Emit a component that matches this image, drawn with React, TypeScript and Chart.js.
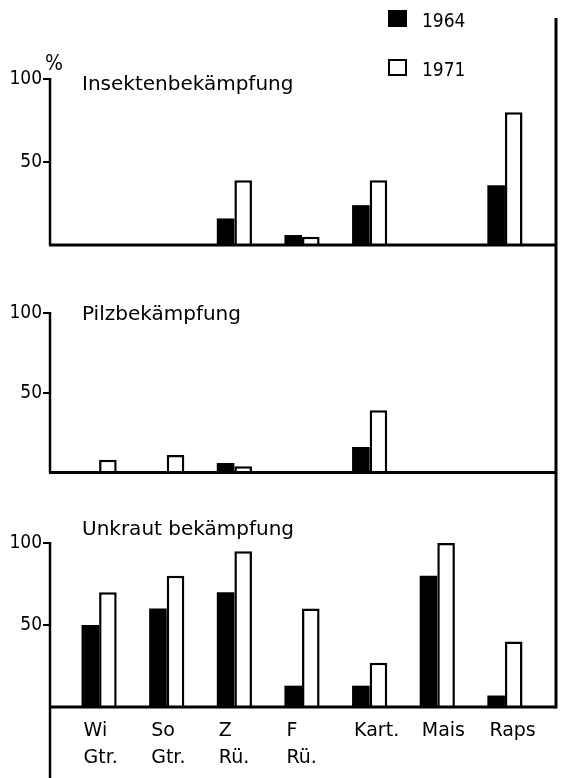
import React, { useEffect, useRef } from 'react';
import { Chart, registerables } from 'chart.js';

Chart.register(...registerables);

// ---------- data ----------
const categories: (string | string[])[] = [
  ['Wi', 'Gtr.'],
  ['So', 'Gtr.'],
  ['Z', 'Rü.'],
  ['F', 'Rü.'],
  'Kart.',
  'Mais',
  'Raps',
];
const seriesNames = ['1964', '1971'];
const panelTitles = ['Insektenbekämpfung', 'Pilzbekämpfung', 'Unkraut bekämpfung'];
const insekten1964 = [0, 0, 16, 6, 24, 0, 36];
const insekten1971 = [0, 0, 39, 5, 39, 0, 80];
const pilz1964 = [0, 0, 6, 0, 16, 0, 0];
const pilz1971 = [8, 11, 4, 0, 39, 0, 0];
const unkraut1964 = [50, 60, 70, 13, 13, 80, 7];
const unkraut1971 = [70, 80, 95, 60, 27, 100, 40];
const yTickValues = [50, 100];
const yUnit = '%';

// ---------- styles ----------
const INK = '#000000';
const PAPER = '#ffffff';
const TITLE_FAMILY = "'DejaVu Sans', 'Liberation Sans', sans-serif";
const NUM_FAMILY = "'DejaVu Sans Condensed', 'Liberation Sans Narrow', 'Liberation Sans', sans-serif";
const W = 561;

type PanelCfg = {
  title: string;
  v1964: number[];
  v1971: number[];
  top: number;
  height: number;
  padTop: number;
  padBottom: number;
  showX: boolean;
  xHeight: number;
  showLegend: boolean;
  showUnit: boolean;
  titleDy: number;
  rightTop: number;
  rightToBottom: boolean;
  leftToBottom: boolean;
};

const panels: PanelCfg[] = [
  {
    title: panelTitles[0], v1964: insekten1964, v1971: insekten1971,
    top: 0, height: 260, padTop: 79, padBottom: 15, showX: false, xHeight: 0,
    showLegend: true, showUnit: true, titleDy: 11, rightTop: 18, rightToBottom: true, leftToBottom: false,
  },
  {
    title: panelTitles[1], v1964: pilz1964, v1971: pilz1971,
    top: 260, height: 225, padTop: 53, padBottom: 8, showX: false, xHeight: 0,
    showLegend: false, showUnit: false, titleDy: 7, rightTop: 0, rightToBottom: true, leftToBottom: false,
  },
  {
    title: panelTitles[2], v1964: unkraut1964, v1971: unkraut1971,
    top: 485, height: 293, padTop: 58, padBottom: 0, showX: true, xHeight: 71,
    showLegend: false, showUnit: false, titleDy: -8, rightTop: 0, rightToBottom: false, leftToBottom: true,
  },
];

const X_MIN = -0.726;
const X_MAX = 6.755;
const LABEL_SHIFT = -0.23;

function makeDecorPlugin(cfg: PanelCfg) {
  return {
    id: 'decor',
    afterDraw(chart: any) {
      const { ctx, chartArea: ca } = chart;
      const y = chart.scales.y;
      const y0 = y.getPixelForValue(0);
      const yTop = y.getPixelForValue(100);
      const line = (x1: number, y1: number, x2: number, y2: number, w: number) => {
        ctx.beginPath();
        ctx.lineWidth = w;
        ctx.moveTo(x1, y1);
        ctx.lineTo(x2, y2);
        ctx.stroke();
      };
      ctx.save();
      ctx.strokeStyle = INK;
      ctx.fillStyle = INK;
      ctx.lineCap = 'butt';
      // left axis
      line(ca.left, yTop - 1, ca.left, cfg.leftToBottom ? chart.height : y0, 2.5);
      // baseline
      line(ca.left - 1, y0, ca.right, y0, 3);
      // right frame line
      line(ca.right, cfg.rightTop, ca.right, cfg.rightToBottom ? chart.height : y0 + 1.5, 3);

      // panel title
      ctx.font = `20px ${TITLE_FAMILY}`;
      ctx.textAlign = 'left';
      ctx.textBaseline = 'alphabetic';
      ctx.fillText(cfg.title, ca.left + 32, yTop + cfg.titleDy);

      if (cfg.showUnit) {
        ctx.font = `21px ${NUM_FAMILY}`;
        ctx.textAlign = 'center';
        ctx.fillText(yUnit, ca.left + 4, yTop - 9);
      }

      if (cfg.showLegend) {
        const ds = chart.data.datasets;
        ctx.font = `19px ${NUM_FAMILY}`;
        ctx.textAlign = 'left';
        ds.forEach((d: any, i: number) => {
          const bx = ca.right - 168;
          const by = 10 + i * 49;
          ctx.fillStyle = d.backgroundColor;
          ctx.fillRect(bx, by, 19, 17);
          ctx.lineWidth = 2;
          ctx.strokeStyle = INK;
          ctx.strokeRect(bx + 1, by + 1, 17, 15);
          ctx.fillStyle = INK;
          ctx.fillText(d.label, bx + 34, by + 17);
        });
      }
      ctx.restore();
    },
  };
}

function buildConfig(cfg: PanelCfg): any {
  const toPoints = (vals: number[]) => vals.map((v, i) => ({ x: i, y: v }));
  return {
    type: 'bar',
    data: {
      datasets: [
        {
          label: seriesNames[0],
          data: toPoints(cfg.v1964),
          backgroundColor: INK,
          borderColor: INK,
          borderWidth: 0,
        },
        {
          label: seriesNames[1],
          data: toPoints(cfg.v1971),
          backgroundColor: PAPER,
          borderColor: INK,
          borderWidth: 2.5,
          borderSkipped: 'bottom',
        },
      ],
    },
    options: {
      responsive: false,
      animation: false,
      devicePixelRatio: 1,
      categoryPercentage: 0.52,
      barPercentage: 1.0,
      layout: {
        autoPadding: false,
        padding: { top: cfg.padTop, bottom: cfg.padBottom, left: 0, right: 5 },
      },
      plugins: {
        legend: { display: false },
        title: { display: false },
        tooltip: { enabled: false },
      },
      scales: {
        x: {
          type: 'linear',
          min: X_MIN,
          max: X_MAX,
          offset: false,
          display: cfg.showX,
          bounds: 'data',
          afterBuildTicks: (s: any) => {
            s.ticks = categories.map((_, i) => ({ value: i + LABEL_SHIFT }));
          },
          afterFit: (s: any) => {
            if (cfg.showX) s.height = cfg.xHeight;
          },
          grid: { display: false, offset: false },
          border: { display: false },
          ticks: {
            autoSkip: false,
            maxRotation: 0,
            minRotation: 0,
            align: 'start',
            padding: 3,
            color: INK,
            font: { family: TITLE_FAMILY, size: 19, lineHeight: 1.42 },
            callback: (_v: any, i: number) => categories[i],
          },
        },
        y: {
          min: 0,
          max: 100,
          afterBuildTicks: (s: any) => {
            s.ticks = yTickValues.map((v) => ({ value: v }));
          },
          afterFit: (s: any) => {
            s.width = 50;
          },
          grid: { drawOnChartArea: false, drawTicks: true, tickLength: 7, color: INK, lineWidth: 2 },
          border: { display: false },
          ticks: {
            color: INK,
            padding: 1,
            font: { family: NUM_FAMILY, size: 19 },
            callback: (v: any) => String(v),
          },
        },
      },
    },
    plugins: [makeDecorPlugin(cfg)],
  };
}

function Panel({ cfg }: { cfg: PanelCfg }) {
  const ref = useRef<HTMLCanvasElement | null>(null);
  useEffect(() => {
    if (!ref.current) return;
    const chart = new Chart(ref.current, buildConfig(cfg));
    return () => chart.destroy();
  }, [cfg]);
  return (
    <canvas
      ref={ref}
      width={W}
      height={cfg.height}
      style={{ position: 'absolute', left: 0, top: cfg.top, width: W, height: cfg.height, display: 'block' }}
    />
  );
}

export default function App() {
  return (
    <div style={{ position: 'absolute', left: 0, top: 0, width: W, height: 778, background: PAPER, overflow: 'hidden' }}>
      {panels.map((p, i) => (
        <Panel key={i} cfg={p} />
      ))}
    </div>
  );
}
